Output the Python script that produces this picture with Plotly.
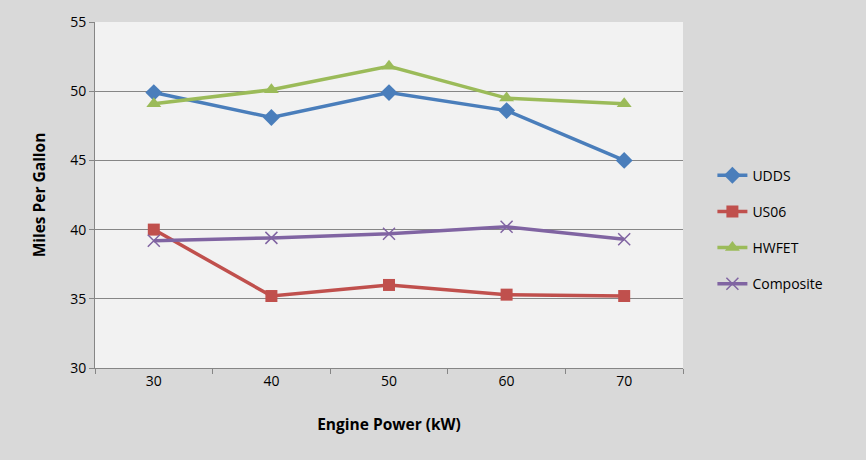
import plotly.graph_objects as go

categories = ["30", "40", "50", "60", "70"]
udds = [49.9, 48.1, 49.9, 48.6, 45.0]
us06 = [40.0, 35.2, 36.0, 35.3, 35.2]
hwfet = [49.1, 50.1, 51.8, 49.5, 49.1]
composite = [39.2, 39.4, 39.7, 40.2, 39.3]

series = [
    ("UDDS", udds, "#4a7ebb", "diamond", 13),
    ("US06", us06, "#c0504d", "square", 12),
    ("HWFET", hwfet, "#9bbb59", "triangle-up", 13),
    ("Composite", composite, "#8064a2", "x-thin", 12),
]

fig = go.Figure()
for i, (name, vals, color, sym, size) in enumerate(series):
    marker = dict(symbol=sym, size=size, color=color)
    if sym == "x-thin":
        marker["line"] = dict(width=1.5, color=color)
    fig.add_trace(go.Scatter(
        x=categories, y=vals, name=name, mode="lines+markers",
        line=dict(color=color, width=3.5), marker=marker,
        legendgroup=f"g{i}",
    ))

font_family = "'Open Sans', Lato, sans-serif"
fig.update_layout(
    width=866, height=460,
    margin=dict(l=95, r=183, t=22, b=92),
    paper_bgcolor="#d9d9d9",
    plot_bgcolor="#f2f2f2",
    font=dict(family=font_family, size=14, color="#000000"),
    showlegend=True,
    legend=dict(x=1.05, xanchor="left", y=0.40, yanchor="middle",
                bgcolor="rgba(0,0,0,0)", font=dict(size=14),
                tracegroupgap=15),
    xaxis=dict(
        type="category", tickson="boundaries", ticks="outside", ticklen=5,
        tickcolor="#868686", showline=True, linecolor="#868686", linewidth=1,
        showgrid=False, range=[-0.5, 4.5],
        title=dict(text="<b>Engine Power (kW)</b>", font=dict(size=15.5), standoff=30),
    ),
    yaxis=dict(
        range=[30, 55], dtick=5, ticks="outside", ticklen=5, tickcolor="#868686",
        showline=True, linecolor="#868686", linewidth=1,
        showgrid=True, gridcolor="#868686", gridwidth=1, zeroline=False,
        title=dict(text="<b>Miles Per Gallon</b>", font=dict(size=15.5), standoff=20),
    ),
)

fig.write_html("out.html")
